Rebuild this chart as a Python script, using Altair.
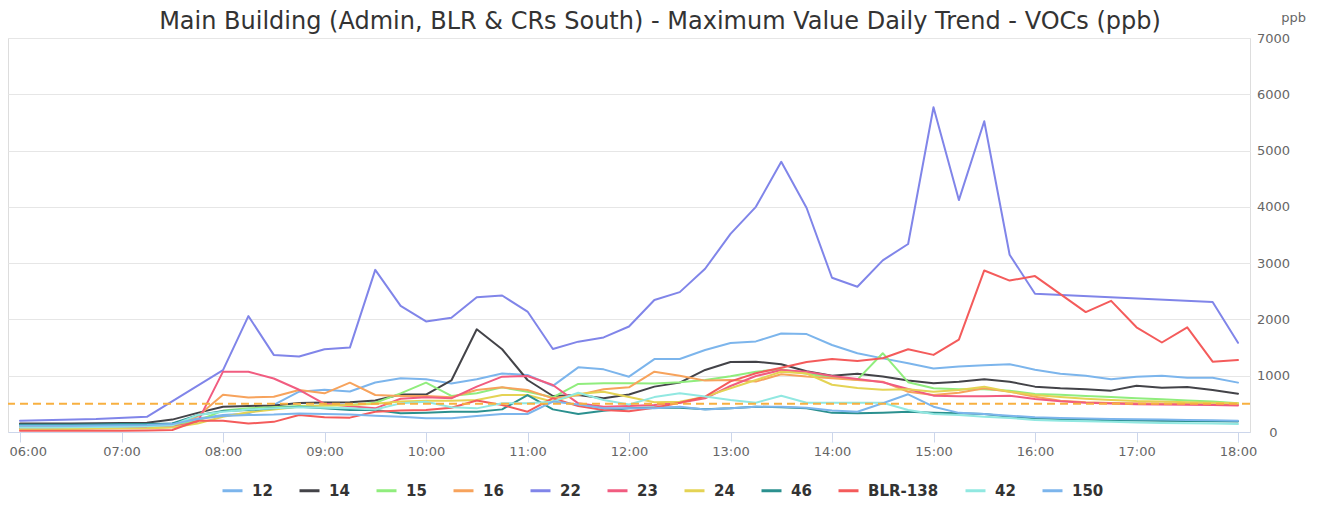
import altair as alt
import pandas as pd

times = ["06:00", "06:15", "06:30", "06:45", "07:00", "07:15", "07:30", "07:45",
         "08:00", "08:15", "08:30", "08:45", "09:00", "09:15", "09:30", "09:45",
         "10:00", "10:15", "10:30", "10:45", "11:00", "11:15", "11:30", "11:45",
         "12:00", "12:15", "12:30", "12:45", "13:00", "13:15", "13:30", "13:45",
         "14:00", "14:15", "14:30", "14:45", "15:00", "15:15", "15:30", "15:45",
         "16:00", "16:15", "16:30", "16:45", "17:00", "17:15", "17:30", "17:45",
         "18:00"]

s12 = [100, 100, 110, 120, 130, 130, 150, 240, 300, 330, 480, 716, 750, 720, 880, 955,
       936, 860, 936, 1040, 1012, 820, 1149, 1113, 983, 1295, 1297, 1457, 1580, 1610, 1750, 1740,
       1545, 1400, 1308, 1220, 1130, 1165, 1185, 1205, 1105, 1035, 998, 936, 980, 1001, 966, 965, 877]
s14 = [150, 150, 150, 155, 160, 165, 220, 340, 450, 462, 470, 515, 525, 530, 560, 665,
       665, 915, 1825, 1470, 924, 640, 657, 598, 665, 806, 877, 1102, 1245, 1250, 1205, 1080,
       1000, 1035, 985, 915, 865, 894, 936, 894, 806, 776, 758, 735, 823, 788, 800, 747, 680]
s15 = [70, 70, 75, 80, 85, 90, 110, 200, 380, 420, 440, 460, 470, 480, 520, 687,
       877, 640, 687, 793, 716, 616, 853, 865, 865, 860, 883, 924, 990, 1072, 1113, 1035,
       972, 930, 1400, 885, 776, 758, 758, 735, 675, 660, 640, 620, 600, 580, 560, 540, 510]
s16 = [90, 90, 90, 95, 100, 110, 130, 280, 663, 615, 627, 746, 687, 876, 657, 640,
       640, 616, 746, 793, 746, 598, 657, 758, 794, 1072, 1001, 913, 924, 895, 1025, 984,
       954, 924, 894, 716, 657, 699, 776, 716, 628, 557, 527, 515, 510, 505, 500, 495, 490]
s22 = [200, None, None, 230, None, 270, None, None, 1100, 2060, 1370, 1340, 1470, 1500, 2880, 2240,
       1965, 2030, 2395, 2425, 2140, 1475, 1605, 1680, 1875, 2345, 2485, 2900, 3520, 4000, 4800, 3980,
       2740, 2580, 3050, 3340, 5770, 4120, 5520, 3150, 2455, None, None, None, None, None, None, 2310, 1585]
s23 = [60, 60, 60, 65, 70, 75, 90, 180, 1072, 1072, 950, 750, 500, 457, 420, 590,
       616, 598, 805, 983, 995, 835, 509, 450, 462, 480, 520, 598, 817, 994, 1101, 1072,
       994, 942, 883, 764, 646, 634, 634, 646, 587, 545, 520, 505, 495, 490, 485, 480, 470]
s24 = [50, 50, 55, 60, 60, 65, 80, 150, 272, 350, 400, 450, 470, 480, 500, 540,
       557, 557, 569, 657, 657, 539, 675, 716, 620, 530, 539, 628, 776, 924, 1070, 1040,
       840, 780, 750, 760, 716, 747, 806, 716, 657, 620, 590, 570, 550, 540, 530, 520, 510]
s46 = [130, 130, 130, 135, 140, 140, 150, 300, 373, 391, 420, 450, 420, 391, 391, 332,
       344, 361, 361, 402, 657, 402, 320, 379, 420, 435, 432, 403, 420, 450, 438, 420,
       340, 332, 343, 361, 343, 332, 320, 273, 243, 230, 220, 210, 205, 200, 195, 190, 185]
sBLR = [20, 20, 20, 20, 20, 25, 36, 200, 200, 150, 180, 302, 261, 255, 360, 380,
        390, 430, 560, 480, 360, 600, 460, 390, 370, 430, 520, 628, 900, 1045, 1140, 1245,
        1295, 1260, 1310, 1470, 1370, 1640, 2870, 2690, 2770, 2450, 2130, 2330, 1860, 1590, 1860, 1250, 1280]
s42 = [80, 80, 85, 90, 95, 100, 120, 300, 360, 400, 420, 440, 430, 420, 400, 509,
       539, 438, 420, 509, 509, 539, 698, 569, 490, 620, 687, 630, 569, 521, 645, 521,
       521, 521, 521, 391, 320, 302, 273, 250, 213, 200, 190, 180, 170, 160, 155, 150, 142]
s150 = [110, 110, 110, 115, 120, 125, 140, 230, 284, 300, 310, 330, 320, 310, 290, 273,
        243, 243, 284, 320, 320, 540, 490, 420, 420, 420, 450, 400, 420, 450, 450, 430,
        380, 360, 510, 670, 450, 340, 320, 290, 260, 250, 240, 230, 225, 220, 215, 210, 200]

series_names = ["12", "14", "15", "16", "22", "23", "24", "46", "BLR-138", "42", "150"]
series_values = [s12, s14, s15, s16, s22, s23, s24, s46, sBLR, s42, s150]
series_colors = ["#7cb5ec", "#434348", "#90ed7d", "#f7a35c", "#8085e9", "#f15c80",
                 "#e4d354", "#2b908f", "#f45b5b", "#91e8e1", "#7cb5ec"]

hour_ticks = ["06:00", "07:00", "08:00", "09:00", "10:00", "11:00", "12:00",
              "13:00", "14:00", "15:00", "16:00", "17:00", "18:00"]
y_ticks = [0, 1000, 2000, 3000, 4000, 5000, 6000, 7000]
threshold = 500


def to_hours(t):
    h, m = t.split(":")
    return int(h) + int(m) / 60.0


rows = []
for order, (name, vals) in enumerate(zip(series_names, series_values)):
    for t, v in zip(times, vals):
        if v is not None:
            rows.append({"series": name, "hour": to_hours(t), "value": v, "order": order})
df = pd.DataFrame(rows)

tick_hours = [to_hours(t) for t in hour_ticks]
pad_h = 12 / 101.5
x_scale = alt.Scale(domain=[tick_hours[0] - pad_h, tick_hours[-1] + pad_h], nice=False, zero=False)
y_scale = alt.Scale(domain=[y_ticks[0], y_ticks[-1]], nice=False)
first_test = "datum.value == %s" % tick_hours[0]

lines = alt.Chart(df).mark_line(strokeWidth=2, strokeJoin="round", strokeCap="round").encode(
    x=alt.X("hour:Q", scale=x_scale,
            axis=alt.Axis(values=tick_hours, title=None, grid=False,
                          labelExpr="(datum.value < 10 ? '0' : '') + datum.value + ':00'",
                          domainColor="#ccd6eb", tickColor="#ccd6eb", tickSize=10,
                          labelPadding=3, labelFontSize=13, labelColor="#666666",
                          labelFont="DejaVu Sans", labelFlush=False,
                          labelAlign={"condition": {"test": first_test, "value": "left"},
                                      "value": "center"},
                          labelOffset={"condition": {"test": first_test, "value": -11},
                                       "value": 0})),
    y=alt.Y("value:Q", scale=y_scale,
            axis=alt.Axis(orient="right", values=y_ticks, format="d", grid=True, gridColor="#e6e6e6",
                          domain=False, ticks=False, tickSize=0, labelAlign="center",
                          labelPadding=23, labelFontSize=13, labelColor="#666666",
                          labelFont="DejaVu Sans",
                          title="ppb", titleAngle=0, titleX=43, titleY=-21,
                          titleFontSize=13, titleColor="#666666", titleFontWeight="normal",
                          titleFont="DejaVu Sans", titleAlign="center", titleBaseline="middle")),
    color=alt.Color("series:N",
                    scale=alt.Scale(domain=series_names, range=series_colors),
                    sort=series_names,
                    legend=alt.Legend(title=None, orient="none", direction="horizontal",
                                      legendX=213, legendY=441,
                                      symbolType="stroke", symbolSize=400, symbolStrokeWidth=3,
                                      labelFontSize=15, labelFontWeight="bold",
                                      labelColor="#333333", labelFont="DejaVu Sans",
                                      labelOffset=8, columnPadding=20)),
    order=alt.Order("order:Q"),
)

rule = alt.Chart(pd.DataFrame({"v": [threshold]})).mark_rule(
    color="#f8b040", strokeWidth=2, strokeDash=[8, 5]
).encode(y=alt.Y("v:Q", scale=y_scale))

chart = alt.layer(lines, rule).properties(
    width=1242, height=394,
    padding={"left": 0, "top": 30, "right": 67, "bottom": 69},
    autosize=alt.AutoSizeParams(type="none"),
    title=alt.TitleParams(
        "Main Building (Admin, BLR & CRs South) - Maximum Value Daily Trend - VOCs (ppb)",
        fontSize=24, font="DejaVu Sans", fontWeight="normal", color="#333333",
        anchor="middle", offset=-23, dx=31),
).configure_view(stroke=None).configure(font="DejaVu Sans")

chart.save("out.html", embed_options={"renderer": "svg", "actions": False})
